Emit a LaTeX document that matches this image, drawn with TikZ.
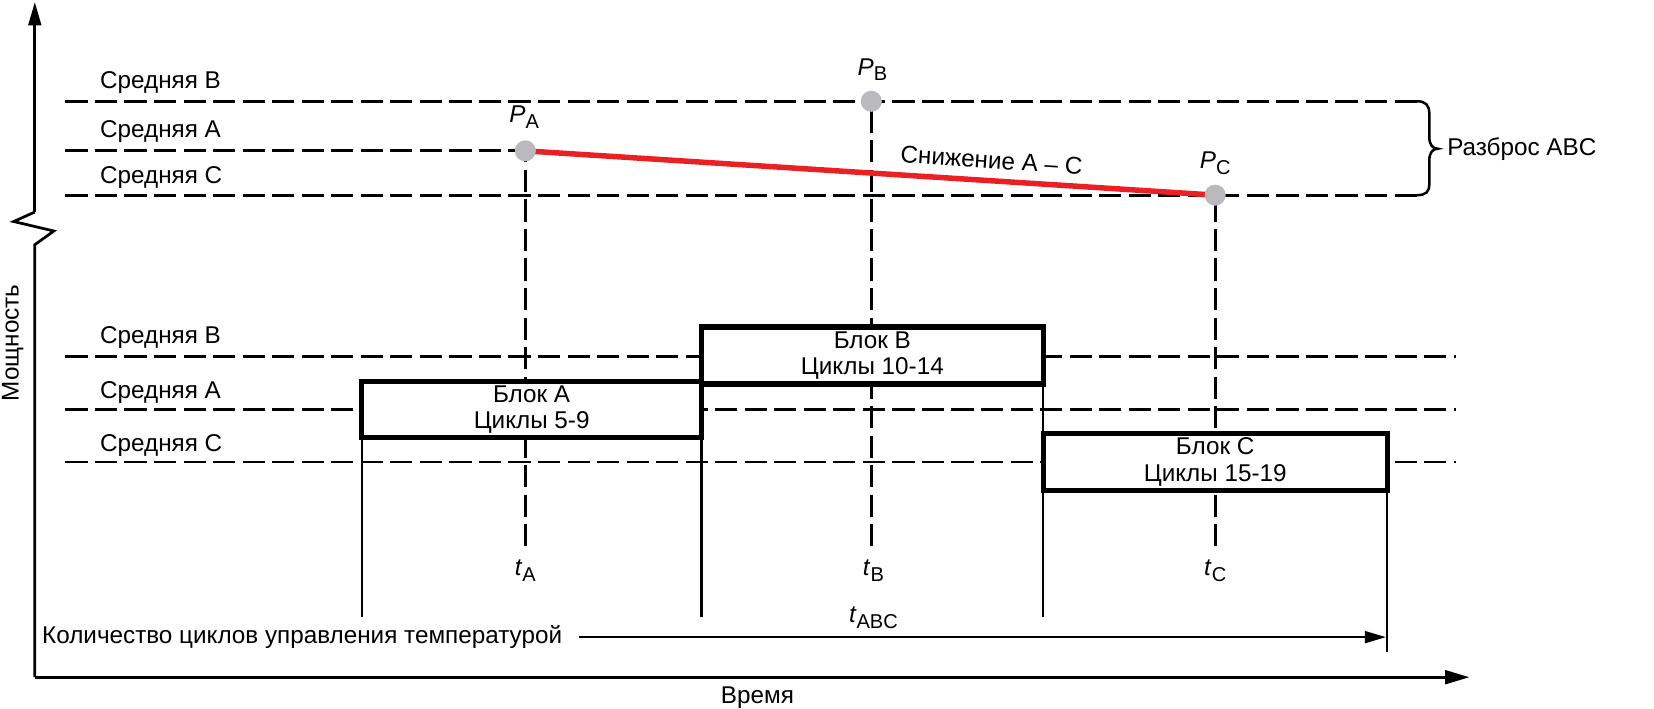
\documentclass[tikz,border=0pt]{standalone}
\usepackage{fontspec}
\setmainfont{Liberation Sans}
\usetikzlibrary{arrows.meta}
\definecolor{dotgray}{RGB}{185,185,190}
\definecolor{lred}{RGB}{235,32,36}
\newcommand\sbs[1]{\raisebox{-0.45ex}{\fontsize{9.5}{10}\selectfont #1}}
\begin{document}
\begin{tikzpicture}[x=0.5pt,y=-0.5pt,
  every node/.style={font=\fontsize{11.5}{13}\selectfont, inner sep=0pt, outer sep=0pt},
  meanline/.style={line width=1.4pt, dash pattern=on 10.5pt off 3.5pt},
  vdashed/.style={line width=1.3pt, dash pattern=on 10.5pt off 3.5pt},
  guide/.style={line width=1.1pt},
  axisline/.style={line width=1.3pt},
  blockbox/.style={draw, line width=2.5pt, fill=white, align=center, font=\fontsize{11.5}{12.5}\selectfont},
  pdot/.style={circle, fill=dotgray, minimum size=10pt},
  mlabel/.style={anchor=west}
]
\useasboundingbox (0,0) rectangle (1568,672);

% axes
\coordinate (O) at (33,642);
\coordinate (ytop) at (33,2);
\coordinate (xend) at (1393,642);
\coordinate (z1) at (33,201);
\coordinate (z2) at (13,210);
\coordinate (z3) at (51,219);
\coordinate (z4) at (33,232);
\draw[axisline, -{Triangle[length=11pt,width=6pt]}] (z1) -- (ytop);
\draw[axisline] (z1) -- (z2) -- (z3) -- (z4) -- (O);
\draw[axisline, -{Triangle[length=11.5pt,width=6.5pt]}] (O) -- (xend);
\node[rotate=90] (ylab) at (12,325) {Мощность};
\node (xlab) at (718,661) {Время};

% top mean lines
\coordinate (tB0) at (62,96);
\coordinate (tB1) at (1343,96);
\coordinate (tA0) at (62,143);
\coordinate (tC0) at (62,185);
\coordinate (tC1) at (1343,185);
\coordinate (PAc) at (498,143);
\coordinate (PBc) at (826,96);
\coordinate (PCc) at (1152,185);
\draw[meanline] (tB0) -- (tB1);
\draw[meanline] (tA0) -- (PAc);
\draw[meanline] (tC0) -- (tC1);
\node[mlabel] (lt1) at (95,78) {Средняя B};
\node[mlabel] (lt2) at (95,125) {Средняя A};
\node[mlabel] (lt3) at (95,168) {Средняя C};

% brace
\draw[line width=1.2pt] (tB1) .. controls (1352,96) and (1355,100) .. (1355,108) -- (1355,130)
  .. controls (1355,137) and (1358,141) .. (1363,141)
  .. controls (1358,141) and (1355,145) .. (1355,152) -- (1355,174)
  .. controls (1355,182) and (1352,185) .. (tC1);
\node[anchor=west] (spread) at (1372,141) {Разброс ABC};

% bottom mean lines
\coordinate (bB0) at (62,338); \coordinate (bB1) at (1380,338);
\coordinate (bA0) at (62,388); \coordinate (bA1) at (1380,388);
\coordinate (bC0) at (62,438); \coordinate (bC1) at (1380,438);
\draw[meanline] (bB0) -- (bB1);
\draw[meanline] (bA0) -- (bA1);
\draw[meanline] (bC0) -- (bC1);
\node[mlabel] (lb1) at (95,320) {Средняя B};
\node[mlabel] (lb2) at (95,372) {Средняя A};
\node[mlabel] (lb3) at (95,422) {Средняя C};

% vertical dashed time lines (drawn upward so the lower end is a full dash)
\coordinate (tAe) at (498,518);
\coordinate (tBe) at (826,518);
\coordinate (tCe) at (1152,518);
\draw[vdashed] (tAe) -- (PAc);
\draw[vdashed] (tBe) -- (PBc);
\draw[vdashed] (tCe) -- (PCc);
\node (tAl) at (498,541) {\textit{t}\sbs{A}};
\node (tBl) at (828,541) {\textit{t}\sbs{B}};
\node (tCl) at (1152,541) {\textit{t}\sbs{C}};

% blocks
\node[blockbox, minimum width=161pt, minimum height=26.5pt] (A) at (504,388.5) {Блок A\\Циклы 5-9};
\node[blockbox, minimum width=162pt, minimum height=27pt] (B) at (827,337) {Блок B\\Циклы 10-14};
\node[blockbox, minimum width=163pt, minimum height=27pt] (C) at (1152,438) {Блок C\\Циклы 15-19};

% guide lines
\coordinate (g1) at (343,585);
\coordinate (g2) at (665,585);
\coordinate (g3) at (989,585);
\coordinate (g4) at (1315,618);
\draw[guide] (A.south west) -- (g1);
\draw[guide] (A.south east) -- (g2);
\draw[guide] (B.south east) -- (C.north west);
\draw[guide] (C.south west) -- (g3);
\draw[guide] (C.south east) -- (g4);

% red decline line and dots
\draw[lred, line width=2.6pt] (PAc) -- (PCc);
\node[pdot] (PA) at (PAc) {};
\node[pdot] (PB) at (PBc) {};
\node[pdot] (PC) at (PCc) {};
\node (PAl) at (497,111) {\textit{P}\sbs{A}};
\node (PBl) at (827,66) {\textit{P}\sbs{B}};
\node (PCl) at (1152,155) {\textit{P}\sbs{C}};
\node[rotate=-3.7] (decl) at (940,152) {Снижение A – C};

% cycles arrow
\node[anchor=west] (cyc) at (40,604) {Количество циклов управления температурой};
\coordinate (cycstart) at (549,604);
\coordinate (cycend) at (1314,604);
\draw[axisline, -{Triangle[length=10pt,width=5.5pt]}] (cycstart) -- (cycend);
\node (tabc) at (828,586) {\textit{t}\sbs{ABC}};
\end{tikzpicture}
\end{document}
